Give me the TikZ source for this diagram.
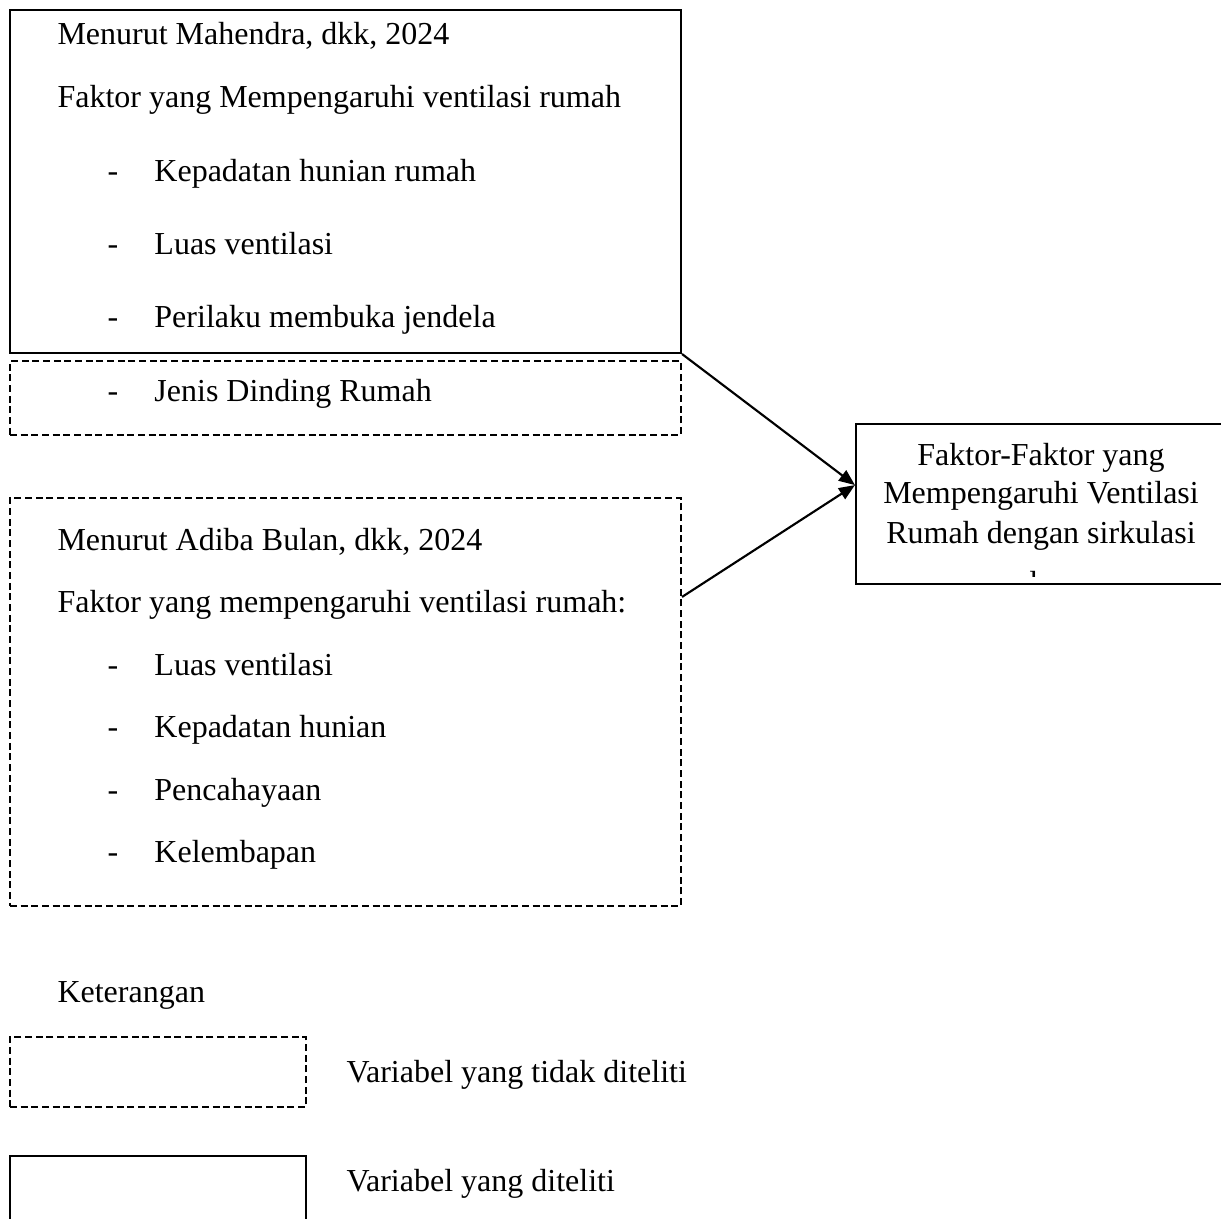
\documentclass[tikz,border=0pt]{standalone}
\usepackage{fontspec}
\setmainfont{Liberation Serif}
\usepackage{tikz}
\usetikzlibrary{arrows.meta,calc}
\newcommand{\butir}[1]{\makebox[17.6pt][l]{-}#1}

\begin{document}
\begin{tikzpicture}[x=0.375pt,y=-0.375pt,
  txt/.style={anchor=base west,inner sep=0pt,font=\fontsize{12}{14}\selectfont},
  ctxt/.style={anchor=base,inner sep=0pt,font=\fontsize{12}{14}\selectfont},
  kotak/.style={draw,line width=0.8pt,inner sep=0pt},
  putus/.style={draw,line width=0.8pt,inner sep=0pt,dash pattern=on 2.6pt off 1.4pt},
  arr/.style={-{Triangle[length=6pt,width=4.8pt]},line width=0.8pt}]
\useasboundingbox (0,0) rectangle (1221,1218);
\clip (0,0) rectangle (1221,1218);
% boxes
\node[kotak,minimum width=251.6pt,minimum height=128.6pt] (mah) at (345.5,181.5) {};
\node[putus,minimum width=251.6pt,minimum height=27.75pt] (jenis) at (345.5,398) {};
\node[putus,minimum width=251.6pt,minimum height=153pt] (adb) at (345.5,702) {};
\node[kotak,minimum width=138.75pt,minimum height=60pt] (fak) at (1041,504) {};
% Mahendra
\node[txt] (mah1) at (57,45) {Menurut Mahendra, dkk, 2024};
\node[txt] (mah2) at (57,108) {Faktor yang Mempengaruhi ventilasi rumah};
\node[txt] (mah3) at (107,182) {\butir{Kepadatan hunian rumah}};
\node[txt] (mah4) at (107,255) {\butir{Luas ventilasi}};
\node[txt] (mah5) at (107,328) {\butir{Perilaku membuka jendela}};
\node[txt] (mah6) at (107,402) {\butir{Jenis Dinding Rumah}};
% Adiba Bulan
\node[txt] (adb1) at (57,550) {Menurut Adiba Bulan, dkk, 2024};
\node[txt] (adb2) at (57,612) {Faktor yang mempengaruhi ventilasi rumah:};
\node[txt] (adb3) at (107,675) {\butir{Luas ventilasi}};
\node[txt] (adb4) at (107,737) {\butir{Kepadatan hunian}};
\node[txt] (adb5) at (107,800) {\butir{Pencahayaan}};
\node[txt] (adb6) at (107,862) {\butir{Kelembapan}};
% hasil
\node[ctxt] (fak1) at (1041,465) {Faktor-Faktor yang};
\node[ctxt] (fak2) at (1041,504) {Mempengaruhi Ventilasi};
\node[ctxt] (fak3) at (1041,543) {Rumah dengan sirkulasi};
\begin{scope}
\clip (fak.north west) rectangle (1226,576);
\node[ctxt] (fak4) at (1041,593) {udara};
\end{scope}
\draw[arr] (mah.south east) -- ([yshift=7.1pt]fak.west);
\draw[arr] ($(adb.north east)+(0,100)$) -- ([yshift=7.1pt]fak.west);
% keterangan
\node[txt] (ket) at (57,1002) {Keterangan};
\node[putus,minimum width=111pt,minimum height=26.25pt] (ket1) at (158,1072) {};
\node[txt] (ket1t) at (346,1082) {Variabel yang tidak diteliti};
\node[kotak,minimum width=111pt,minimum height=30pt] (ket2) at (158,1196) {};
\node[txt] (ket2t) at (346,1191) {Variabel yang diteliti};
\end{tikzpicture}
\end{document}
